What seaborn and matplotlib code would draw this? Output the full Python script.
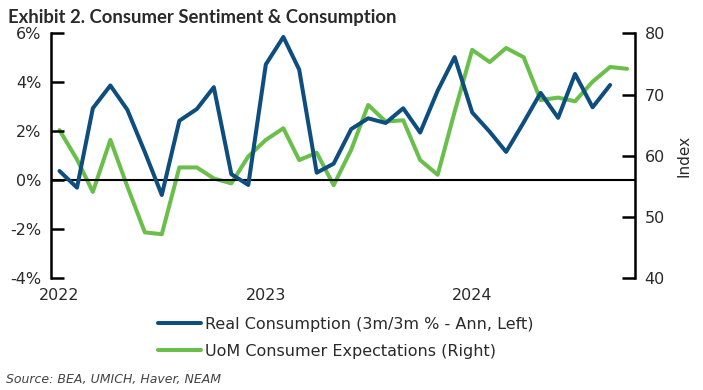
import matplotlib
matplotlib.use("Agg")
import matplotlib.pyplot as plt
import matplotlib.dates as mdates
import seaborn as sns
import pandas as pd
import numpy as np

# ---- data ----
start_month = "2022-01-01"
consumption = [0.38, -0.30, 2.94, 3.87, 2.88, 1.15, -0.60, 2.43, 2.91, 3.80,
               0.25, -0.19, 4.73, 5.85, 4.52, 0.31, 0.68, 2.09, 2.53, 2.34,
               2.94, 1.95, 3.66, 5.03, 2.77, 1.98, 1.16, 2.36, 3.57, 2.55,
               4.34, 2.98, 3.89]
expectations = [64.2, 59.4, 54.1, 62.6, 55.0, 47.5, 47.2, 58.1, 58.1, 56.3,
                55.5, 59.9, 62.6, 64.5, 59.3, 60.5, 55.2, 61.0, 68.3, 65.6,
                65.8, 59.3, 56.9, 67.2, 77.3, 75.3, 77.6, 76.1, 69.1, 69.5,
                68.9, 72.1, 74.5, 74.2]
left_ticks = [-4, -2, 0, 2, 4, 6]
right_ticks = [40, 50, 60, 70, 80]
year_labels = ["2022", "2023", "2024"]
label_blue = "Real Consumption (3m/3m % - Ann, Left)"
label_green = "UoM Consumer Expectations (Right)"
title = "Exhibit 2. Consumer Sentiment & Consumption"
source = "Source: BEA, UMICH, Haver, NEAM"

dates_c = pd.date_range(start_month, periods=len(consumption), freq="MS")
dates_e = pd.date_range(start_month, periods=len(expectations), freq="MS")
df_c = pd.DataFrame({"date": dates_c, "value": consumption})
df_e = pd.DataFrame({"date": dates_e, "value": expectations})

BLUE = "#0d4e7e"
GREEN = "#6abf4b"
TEXT = "#2a2a2a"

sns.set_theme(style="white")
plt.rcParams["font.family"] = ["DejaVu Sans"]

fig = plt.figure(figsize=(7.03, 3.90), dpi=100)
ax = fig.add_axes([51/703, 1-278.3/390, (635-51)/703, (278.3-33.3)/390])
ax2 = ax.twinx()

sns.lineplot(data=df_c, x="date", y="value", ax=ax, color=BLUE, linewidth=2.9, zorder=3)
sns.lineplot(data=df_e, x="date", y="value", ax=ax2, color=GREEN, linewidth=2.9, zorder=2)
ax.set_zorder(ax2.get_zorder() + 1)
ax.patch.set_visible(False)

ax.axhline(0, color="black", linewidth=1.5, zorder=1)

ax.set_ylim(-4, 6)
ax2.set_ylim(40, 80)
ax.set_xlim(pd.Timestamp("2021-12-17"), pd.Timestamp("2024-10-15"))

ax.set_yticks(left_ticks)
ax.set_yticklabels([f"{t}%" for t in left_ticks])
ax2.set_yticks(right_ticks)
ax2.set_yticklabels([str(t) for t in right_ticks])

year_dates = [pd.Timestamp(f"{y}-01-01") for y in year_labels]
ax.set_xticks(year_dates)
ax.set_xticklabels(year_labels)

for a in (ax, ax2):
    for s in a.spines.values():
        s.set_visible(False)
    a.set_xlabel("")
    a.set_ylabel("")
ax.spines["left"].set_visible(True)
ax.spines["left"].set_color("black")
ax.spines["left"].set_linewidth(1.8)
ax2.spines["right"].set_visible(True)
ax2.spines["right"].set_color("black")
ax2.spines["right"].set_linewidth(1.8)

ax.tick_params(axis="y", direction="in", length=9.5, width=1.8, color="black",
               labelsize=11.5, labelcolor=TEXT, pad=7, left=True)
ax2.tick_params(axis="y", direction="in", length=9.5, width=1.8, color="black",
                labelsize=11.5, labelcolor=TEXT, pad=7, right=True)
ax.tick_params(axis="x", length=0, labelsize=11.5, labelcolor=TEXT, pad=7)

ax2.set_ylabel("Index", fontsize=11, color=TEXT, labelpad=8)

fig.text(8/703, 1-17/390, title, fontsize=13.3, fontweight="bold", color=TEXT,
         ha="left", va="center", family=["Lato", "DejaVu Sans"])
fig.text(6/703, 1-379/390, source, fontsize=9, style="italic", color="#444444",
         ha="left", va="center")

handles = [plt.Line2D([], [], color=BLUE, linewidth=2.9),
           plt.Line2D([], [], color=GREEN, linewidth=2.9)]
fig.legend(handles, [label_blue, label_green], loc="upper center",
           bbox_to_anchor=(346/703, 1-309/390), frameon=False, fontsize=11.5,
           handlelength=2.7, handletextpad=0.25, labelspacing=0.75,
           labelcolor=TEXT, borderpad=0)

fig.savefig("out.png", dpi=100)
